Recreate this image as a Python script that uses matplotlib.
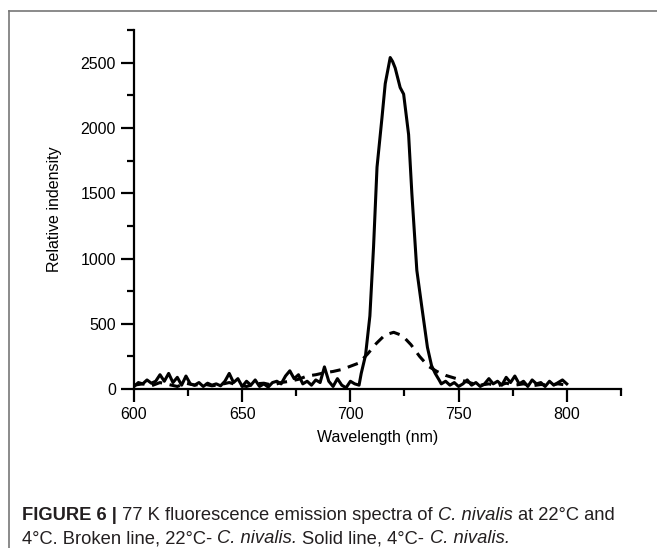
import matplotlib
matplotlib.use("Agg")
import matplotlib.pyplot as plt
from matplotlib.lines import Line2D

# ---------------- DATA ----------------
# solid line, 4 C - C. nivalis
wl_cold = [600, 602, 604, 606, 608, 610, 612, 614, 616, 618, 620, 622, 624, 626, 628,
           630, 632, 634, 636, 638, 640, 642, 644, 646, 648, 650, 652, 654, 656, 658,
           660, 662, 664, 666, 668, 670, 672, 674, 676, 678, 680, 682, 684, 686, 688,
           690, 692, 694, 696, 698, 700, 702,
           704, 705, 707, 709, 710.7, 712.3, 714.6, 716.1, 718.4, 719.5, 720.7, 723,
           724.6, 726.9, 728.4, 730.7, 733, 735.6, 737.5, 739.2, 741, 742,
           744, 746, 748, 750, 752, 754, 756, 758, 760, 762, 764, 766, 768, 770, 772,
           774, 776, 778, 780, 782, 784, 786, 788, 790, 792, 794, 796, 798, 800]
int_cold = [20, 50, 40, 70, 45, 60, 110, 60, 120, 50, 90, 30, 100, 40, 30,
            50, 20, 45, 30, 40, 25, 60, 120, 50, 80, 20, 60, 30, 70, 20,
            40, 15, 50, 60, 40, 100, 140, 80, 110, 40, 60, 30, 70, 50, 170,
            60, 20, 80, 30, 10, 60, 40,
            30, 120, 260, 560, 1090, 1700, 2080, 2340, 2540, 2510, 2460, 2310,
            2260, 1950, 1500, 910, 630, 320, 180, 120, 70, 40,
            60, 30, 50, 20, 40, 70, 30, 50, 20, 40, 80, 40, 60, 30, 90,
            50, 100, 40, 60, 20, 70, 40, 50, 20, 60, 30, 50, 70, 40]

# broken line, 22 C - C. nivalis
wl_warm = [600, 604, 608, 612, 616, 620, 624, 628, 632, 636, 640, 644, 648, 652, 656,
           660, 664, 668, 672, 676, 680, 684, 688, 692, 696, 700, 704, 708, 712, 716,
           720, 724, 728, 732, 736, 740, 744, 748, 752, 756, 760, 764, 768, 772, 776,
           780, 784, 788, 792, 796, 800]
int_warm = [30, 40, 25, 50, 35, 20, 45, 30, 40, 25, 35, 50, 30, 20, 40,
            45, 30, 50, 60, 75, 100, 110, 125, 135, 150, 175, 200, 270, 350, 415,
            435, 410, 340, 250, 175, 135, 105, 85, 65, 45, 30, 40, 25, 45, 30,
            40, 25, 35, 30, 40, 30]

x_ticks = [600, 650, 700, 750, 800]
y_ticks = [0, 500, 1000, 1500, 2000, 2500]

caption_1 = [("FIGURE 6 |", "bold", "normal"),
             ("77 K fluorescence emission spectra of", "normal", "normal"),
             ("C. nivalis", "normal", "italic"),
             ("at 22°C and", "normal", "normal")]
caption_2 = [("4°C. Broken line, 22°C-", "normal", "normal"),
             ("C. nivalis.", "normal", "italic"),
             ("Solid line, 4°C-", "normal", "normal"),
             ("C. nivalis.", "normal", "italic")]

# ---------------- PLOT ----------------
plt.rcParams["font.family"] = ["Liberation Sans", "DejaVu Sans"]

fig = plt.figure(figsize=(6.57, 5.48), dpi=100)
ax = fig.add_axes([0.204, 0.290, 0.741, 0.655])

ax.plot(wl_cold, int_cold, color="black", lw=2.2, solid_joinstyle="round")
ax.plot(wl_warm, int_warm, color="black", lw=2.2, linestyle=(0, (3.5, 2.5)))

ax.set_xlim(600, 825)
ax.set_ylim(0, 2750)
ax.set_xticks(x_ticks)
ax.set_xticks([625, 675, 725, 775, 825], minor=True)
ax.set_yticks(y_ticks)
ax.set_yticks([250, 750, 1250, 1750, 2250, 2750], minor=True)

for side in ["top", "right"]:
    ax.spines[side].set_visible(False)
for side in ["left", "bottom"]:
    ax.spines[side].set_linewidth(1.6)

ax.tick_params(which="major", direction="out", length=9.5, width=1.6, labelsize=11.5)
ax.tick_params(which="minor", direction="out", length=5, width=1.6)
ax.set_xlabel("Wavelength (nm)", fontsize=11.5, labelpad=6)
ax.set_ylabel("Relative indensity", fontsize=11.5, labelpad=13)

# frame around figure + caption
fig.add_artist(Line2D([9 / 657, 1.0], [1 - 11 / 548, 1 - 11 / 548],
                      transform=fig.transFigure, color="#777777", lw=1.2))
fig.add_artist(Line2D([9 / 657, 9 / 657], [0.0, 1 - 11 / 548],
                      transform=fig.transFigure, color="#777777", lw=1.2))

renderer = fig.canvas.get_renderer()
cap_font = ["Liberation Sans", "DejaVu Sans"]
cap_size = 13.2


def text_width(s, weight, style):
    t = fig.text(0, 0, s, fontsize=cap_size, family=cap_font, weight=weight, style=style)
    w = t.get_window_extent(renderer=renderer).width
    t.remove()
    return w


space = text_width("x x", "normal", "normal") - text_width("xx", "normal", "normal")


def draw_line(pieces, y_px):
    x_px = 22
    for s, weight, style in pieces:
        t = fig.text(x_px / 657, 1 - y_px / 548, s, fontsize=cap_size, family=cap_font,
                     weight=weight, style=style, color="#231f20", va="baseline")
        x_px += t.get_window_extent(renderer=renderer).width + space


draw_line(caption_1, 520)
draw_line(caption_2, 543)

fig.savefig("out.png", dpi=100)
